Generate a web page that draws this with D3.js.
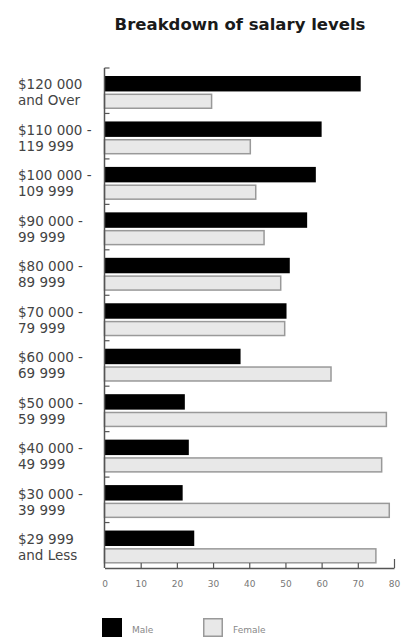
<!DOCTYPE html>
<html>
<head>
<meta charset="utf-8">
<script src="https://cdn.jsdelivr.net/npm/d3@7"></script>
<style>
  html, body { margin: 0; padding: 0; background: #fff; }
  svg { display: block; }
  text { font-family: "DejaVu Sans", sans-serif; }
</style>
</head>
<body>
<div id="chart"></div>
<script>
// Salary bands, top to bottom, each label split over two lines
const categories = [
  ["$120 000", "and Over"],
  ["$110 000 -", "119 999"],
  ["$100 000 -", "109 999"],
  ["$90 000 -", "99 999"],
  ["$80 000 -", "89 999"],
  ["$70 000 -", "79 999"],
  ["$60 000 -", "69 999"],
  ["$50 000 -", "59 999"],
  ["$40 000 -", "49 999"],
  ["$30 000 -", "39 999"],
  ["$29 999", "and Less"]
];
const seriesNames = ["Male", "Female"];
const maleValues   = [70.8, 60.0, 58.4, 56.0, 51.2, 50.3, 37.6, 22.2, 23.3, 21.6, 24.8];
const femaleValues = [29.8, 40.5, 42.0, 44.3, 48.9, 50.0, 62.8, 78.1, 76.8, 78.9, 75.2];
const xTicks = [0, 10, 20, 30, 40, 50, 60, 70, 80];
const title = "Breakdown of salary levels";

const W = 405, H = 637;
const svg = d3.select("#chart").append("svg").attr("width", W).attr("height", H);

const keys = categories.map((c, i) => i);
const x = d3.scaleLinear().domain([0, 80]).range([104.5, 394]);
const y = d3.scaleBand().domain(keys).range([68, 568]).paddingInner(0).paddingOuter(0);
const inner = d3.scaleBand().domain(seriesNames).range([8, 41]).paddingInner(0.12);

const colors = { Male: "#000", Female: "#e8e8e8" };

// title
svg.append("text")
  .attr("x", 240).attr("y", 30)
  .attr("text-anchor", "middle")
  .attr("font-size", 16.5).attr("font-weight", "bold")
  .attr("fill", "#1a1a1a")
  .text(title);

// bars
const rows = keys.map(i => ({ i, values: [
  { s: "Male", v: maleValues[i] },
  { s: "Female", v: femaleValues[i] }
]}));

const grp = svg.append("g").selectAll("g.row").data(rows).join("g")
  .attr("class", "row")
  .attr("transform", d => `translate(0,${y(d.i)})`);

grp.selectAll("rect").data(d => d.values).join("rect")
  .attr("x", x(0))
  .attr("y", d => inner(d.s) + (d.s === "Female" ? 0.75 : 0))
  .attr("width", d => x(d.v) - x(0) - (d.s === "Female" ? 0.75 : 0))
  .attr("height", d => inner.bandwidth() - (d.s === "Female" ? 1.5 : 0))
  .attr("fill", d => colors[d.s])
  .attr("stroke", d => d.s === "Female" ? "#999" : "none")
  .attr("stroke-width", 1.5);

// category labels, two separate lines
const labels = svg.append("g");
[0, 1].forEach(line => {
  labels.append("g").selectAll("text").data(keys).join("text")
    .attr("x", 18)
    .attr("y", i => y(i) + y.bandwidth() / 2 - 1.3 + line * 16)
    .attr("font-size", 13.5)
    .attr("fill", "#444")
    .text(i => categories[i][line]);
});

// left axis: vertical line with short inward ticks at band boundaries
const axisColor = "#555";
svg.append("line")
  .attr("x1", x(0)).attr("x2", x(0))
  .attr("y1", y.range()[0]).attr("y2", y.range()[1])
  .attr("stroke", axisColor).attr("stroke-width", 1.5);
svg.append("g").selectAll("line").data(keys).join("line")
  .attr("x1", x(0)).attr("x2", x(0) + 5)
  .attr("y1", i => y(i)).attr("y2", i => y(i))
  .attr("stroke", axisColor).attr("stroke-width", 1.2);

// bottom axis
const xAxis = d3.axisBottom(x).tickValues(xTicks).tickSizeInner(-5).tickSizeOuter(0).tickPadding(13);
const ax = svg.append("g").attr("transform", `translate(0,${y.range()[1]})`).call(xAxis);
ax.select(".domain").attr("stroke", axisColor).attr("stroke-width", 1.5);
ax.selectAll(".tick line").attr("stroke", axisColor).attr("stroke-width", 1.2);
ax.selectAll(".tick").filter(d => d === 0).select("line").remove();
ax.selectAll(".tick").filter(d => d === 80).select("line").attr("y2", -9);
ax.selectAll(".tick text")
  .attr("fill", "#777").attr("font-size", 9)
  .attr("font-family", "'DejaVu Sans', sans-serif");

// legend
const legend = svg.append("g").selectAll("g").data(seriesNames).join("g")
  .attr("transform", (d, i) => `translate(${[102, 203][i]},618)`);
legend.append("rect")
  .attr("x", d => d === "Female" ? 0.75 : 0)
  .attr("y", d => d === "Female" ? 0.75 : 0)
  .attr("width", d => d === "Female" ? 18.5 : 20)
  .attr("height", d => d === "Female" ? 17.5 : 19)
  .attr("fill", d => colors[d])
  .attr("stroke", d => d === "Female" ? "#999" : "none")
  .attr("stroke-width", 1.5);
legend.append("text")
  .attr("x", 30).attr("y", 15)
  .attr("font-size", 9).attr("fill", "#888")
  .text(d => d);
</script>
</body>
</html>
